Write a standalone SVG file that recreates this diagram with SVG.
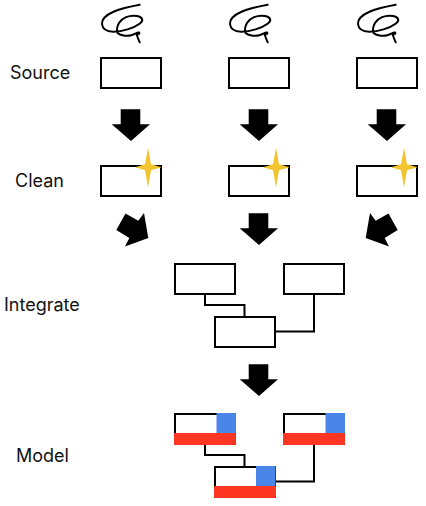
<svg xmlns="http://www.w3.org/2000/svg" width="426" height="506" viewBox="0 0 426 506">
<style>
.box{fill:#fff;stroke:#000;stroke-width:2}
.conn{fill:none;stroke:#000;stroke-width:2}
.label{font-family:"Inter","Liberation Sans",sans-serif;font-size:18px;fill:#111}
.red{fill:#ff3621}
.blue{fill:#4a86e8}
.star{fill:#f4c430}
.scribble{fill:none;stroke:#000;stroke-width:2;stroke-linecap:round;stroke-linejoin:round}
</style>
<defs>
<path id="sc" class="scribble" d="M139.700 4.700C130 6.500 121 8.500 114 11.500C106 15 101.500 19 102 24C102.500 29 107 31.500 113 31.800C122 32 134 28 140 23.500C144 20.500 142.500 17 137 16C129 14.800 122 18 119 23C117 26.500 116.500 30 117.500 33C121 36 128 36.500 132 35C135 34 137.500 32 139 32.500C140 33 139 35 136.500 34C137.500 37 138.500 40 139.700 42.300"/>
<polygon id="arrow" points="120.700,109.300 140.300,109.300 140.300,124.300 150,124.300 131,141 111.700,124.300 120.700,124.300"/>
<polygon id="star" points="148,147.700 151,164.300 161.700,167.300 151,170.300 148,187.300 145,170.300 135,167.300 145,164.300"/>
</defs>
<g id="connectors">
<path class="conn" d="M205 294V305H244.500V316"/>
<path class="conn" d="M274 331.500H314V294"/>
<path class="conn" d="M205 445V455H244.500V466"/>
<path class="conn" d="M275 481.500H314V445"/>
<use href="#arrow"/>
<use href="#arrow" x="128"/>
<use href="#arrow" x="256"/>
<polygon points="125.500,213.500 116.300,230 129.300,238 125,246.500 148.300,238 144,213 138.300,220.700"/>
<use href="#arrow" x="128" y="104"/>
<polygon points="388.500,213.500 397.700,230 384.700,238 389,246.500 365.700,238 370,213 375.700,220.700"/>
<use href="#arrow" x="128" y="255"/>
</g>
<g id="labels">
<text class="label" x="10" y="79">Source</text>
<text class="label" x="15" y="187">Clean</text>
<text class="label" x="4" y="311">Integrate</text>
<text class="label" x="16" y="462">Model</text>
</g>
<g id="source-1"><use href="#sc"/><rect class="box" x="101" y="58" width="60" height="30"/></g>
<g id="source-2"><use href="#sc" x="128"/><rect class="box" x="229" y="58" width="60" height="30"/></g>
<g id="source-3"><use href="#sc" x="256"/><rect class="box" x="357" y="58" width="60" height="30"/></g>
<g id="clean-1"><rect class="box" x="101" y="166" width="60" height="30"/><use href="#star" class="star"/></g>
<g id="clean-2"><rect class="box" x="229" y="166" width="60" height="30"/><use href="#star" class="star" x="128"/></g>
<g id="clean-3"><rect class="box" x="357" y="166" width="60" height="30"/><use href="#star" class="star" x="256"/></g>
<g id="integrate-1"><rect class="box" x="175" y="264" width="60" height="30"/></g>
<g id="integrate-2"><rect class="box" x="284" y="264" width="60" height="30"/></g>
<g id="integrate-3"><rect class="box" x="215" y="317" width="60" height="30"/></g>
<g id="model-1"><rect class="box" x="175" y="414" width="60" height="30"/><rect class="blue" x="216.500" y="413" width="19.500" height="20"/><rect class="red" x="174" y="433" width="62" height="12" rx="1"/></g>
<g id="model-2"><rect class="box" x="284" y="414" width="60" height="30"/><rect class="blue" x="325.500" y="413" width="19.500" height="20"/><rect class="red" x="283" y="433" width="62" height="12" rx="1"/></g>
<g id="model-3"><rect class="box" x="215" y="467" width="60" height="30"/><rect class="blue" x="256" y="466" width="19.500" height="20"/><rect class="red" x="214" y="486" width="62" height="12" rx="1"/></g>
</svg>
